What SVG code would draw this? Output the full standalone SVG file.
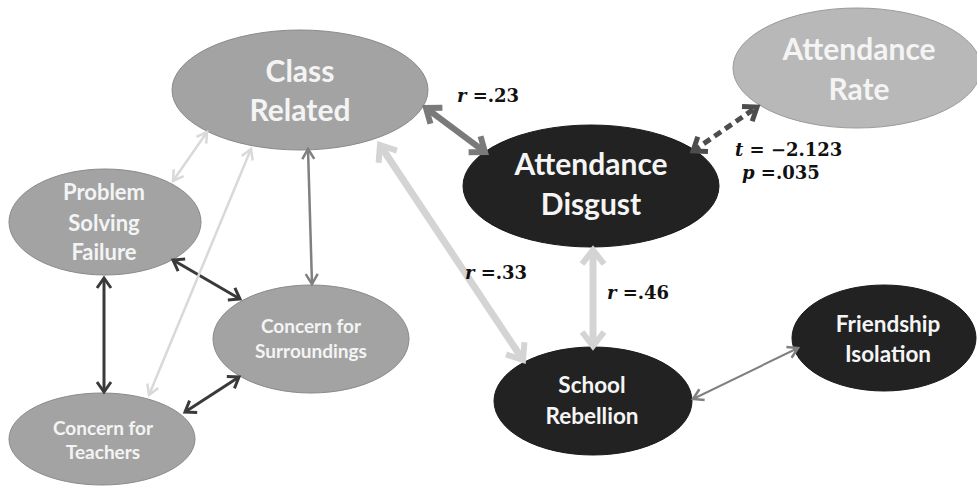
<svg xmlns="http://www.w3.org/2000/svg" width="977" height="486" viewBox="0 0 977 486">
<style>
.n-grey{fill:#a3a3a3;stroke:#8a8a8a;stroke-width:1}
.n-light{fill:#b8b8b8;stroke:#9a9a9a;stroke-width:1}
.n-dark{fill:#222222;stroke:#1a1a1a;stroke-width:1}
.t{font-family:Lato,"Liberation Sans",sans-serif;font-weight:bold;text-anchor:middle}
.tg{fill:#f4f4f4}
.tw{fill:#f5f5f5}
.lab{font-family:"DejaVu Serif","Liberation Serif",serif;font-weight:bold;font-size:18px;fill:#111}
.v{font-style:italic}
.c{fill:none;stroke-linecap:butt}
</style>
<defs>
<marker id="mThick" markerUnits="userSpaceOnUse" viewBox="-20 -20 40 40" markerWidth="40" markerHeight="40" refX="0" refY="0" orient="auto-start-reverse" overflow="visible"><path d="M-13,-10 L0,0 L-13,10" fill="none" stroke="#7a7a7a" stroke-width="6"/></marker>
<marker id="mDash" markerUnits="userSpaceOnUse" viewBox="-20 -20 40 40" markerWidth="40" markerHeight="40" refX="0" refY="0" orient="auto-start-reverse" overflow="visible"><path d="M-12,-9 L0,0 L-12,9" fill="none" stroke="#4d4d4d" stroke-width="5"/></marker>
<marker id="mLightThick" markerUnits="userSpaceOnUse" viewBox="-20 -20 40 40" markerWidth="40" markerHeight="40" refX="0" refY="0" orient="auto-start-reverse" overflow="visible"><path d="M-14,-11 L0,0 L-14,11" fill="none" stroke="#d4d4d4" stroke-width="6"/></marker>
<marker id="mMid" markerUnits="userSpaceOnUse" viewBox="-20 -20 40 40" markerWidth="40" markerHeight="40" refX="0" refY="0" orient="auto-start-reverse" overflow="visible"><path d="M-10,-6 L0,0 L-10,6" fill="none" stroke="#808080" stroke-width="2.5"/></marker>
<marker id="mDark" markerUnits="userSpaceOnUse" viewBox="-20 -20 40 40" markerWidth="40" markerHeight="40" refX="0" refY="0" orient="auto-start-reverse" overflow="visible"><path d="M-10,-7 L0,0 L-10,7" fill="none" stroke="#3a3a3a" stroke-width="3"/></marker>
<marker id="mLight" markerUnits="userSpaceOnUse" viewBox="-20 -20 40 40" markerWidth="40" markerHeight="40" refX="0" refY="0" orient="auto-start-reverse" overflow="visible"><path d="M-10,-6 L0,0 L-10,6" fill="none" stroke="#d9d9d9" stroke-width="2.5"/></marker>
</defs>
<rect width="977" height="486" fill="#ffffff"/>

<g id="nodes">
<g id="class-related"><ellipse class="n-grey" cx="300" cy="90" rx="128" ry="60"/><text class="t tg" font-size="30"><tspan x="300" y="82">Class</tspan><tspan x="300" y="121">Related</tspan></text></g>
<g id="attendance-disgust"><ellipse class="n-dark" cx="591" cy="186" rx="128" ry="61"/><text class="t tw" font-size="30"><tspan x="591" y="175">Attendance</tspan><tspan x="591" y="215">Disgust</tspan></text></g>
<g id="attendance-rate"><ellipse class="n-light" cx="857" cy="68" rx="124" ry="60"/><text class="t tg" font-size="30"><tspan x="859" y="60">Attendance</tspan><tspan x="859" y="100">Rate</tspan></text></g>
<g id="problem-solving-failure"><ellipse class="n-grey" cx="105" cy="222" rx="96" ry="53"/><text class="t tg" font-size="22"><tspan x="104" y="200">Problem</tspan><tspan x="104" y="231">Solving</tspan><tspan x="104" y="260">Failure</tspan></text></g>
<g id="concern-surroundings"><ellipse class="n-grey" cx="311" cy="339" rx="98" ry="54"/><text class="t tg" font-size="19"><tspan x="311" y="333">Concern for</tspan><tspan x="311" y="358">Surroundings</tspan></text></g>
<g id="concern-teachers"><ellipse class="n-grey" cx="102" cy="439" rx="93" ry="46"/><text class="t tg" font-size="19"><tspan x="103" y="435">Concern for</tspan><tspan x="103" y="459">Teachers</tspan></text></g>
<g id="school-rebellion"><ellipse class="n-dark" cx="593" cy="401" rx="99" ry="54"/><text class="t tw" font-size="22.5"><tspan x="592" y="393">School</tspan><tspan x="592" y="424">Rebellion</tspan></text></g>
<g id="friendship-isolation"><ellipse class="n-dark" cx="884" cy="338" rx="92" ry="53"/><text class="t tw" font-size="22.5"><tspan x="888" y="332">Friendship</tspan><tspan x="888" y="362">Isolation</tspan></text></g>
</g>

<g id="connectors">
<line class="c" x1="426" y1="108" x2="485" y2="152" stroke="#7a7a7a" stroke-width="6" marker-start="url(#mThick)" marker-end="url(#mThick)"/>
<line class="c" x1="693" y1="151" x2="757" y2="107" stroke="#4d4d4d" stroke-width="5" stroke-dasharray="8 5" marker-start="url(#mDash)" marker-end="url(#mDash)"/>
<line class="c" x1="380" y1="145" x2="523" y2="360" stroke="#d4d4d4" stroke-width="7" marker-start="url(#mLightThick)" marker-end="url(#mLightThick)"/>
<line class="c" x1="593" y1="250" x2="593" y2="346" stroke="#d4d4d4" stroke-width="7" marker-start="url(#mLightThick)" marker-end="url(#mLightThick)"/>
<line class="c" x1="308" y1="149" x2="312" y2="284" stroke="#808080" stroke-width="2.5" marker-start="url(#mMid)" marker-end="url(#mMid)"/>
<line class="c" x1="173" y1="260" x2="240" y2="299" stroke="#3a3a3a" stroke-width="3" marker-start="url(#mDark)" marker-end="url(#mDark)"/>
<line class="c" x1="104" y1="278" x2="104" y2="392" stroke="#3a3a3a" stroke-width="3" marker-start="url(#mDark)" marker-end="url(#mDark)"/>
<line class="c" x1="185" y1="412" x2="239" y2="377" stroke="#3a3a3a" stroke-width="3" marker-start="url(#mDark)" marker-end="url(#mDark)"/>
<line class="c" x1="207" y1="132" x2="173" y2="181" stroke="#d9d9d9" stroke-width="2.5" marker-start="url(#mLight)" marker-end="url(#mLight)"/>
<line class="c" x1="149" y1="395" x2="251" y2="149" stroke="#d9d9d9" stroke-width="2.5" marker-start="url(#mLight)" marker-end="url(#mLight)"/>
<line class="c" x1="693" y1="399" x2="798" y2="348" stroke="#808080" stroke-width="2" marker-start="url(#mMid)" marker-end="url(#mMid)"/>
</g>

<g id="labels">
<text class="lab" x="457" y="102"><tspan class="v">r</tspan> =.23</text>
<text class="lab" x="465" y="279"><tspan class="v">r</tspan> =.33</text>
<text class="lab" x="607" y="299"><tspan class="v">r</tspan> =.46</text>
<text class="lab" x="735" y="156"><tspan class="v">t</tspan> = −2.123</text>
<text class="lab" x="742" y="179"><tspan class="v">p</tspan> =.035</text>
</g>
</svg>
